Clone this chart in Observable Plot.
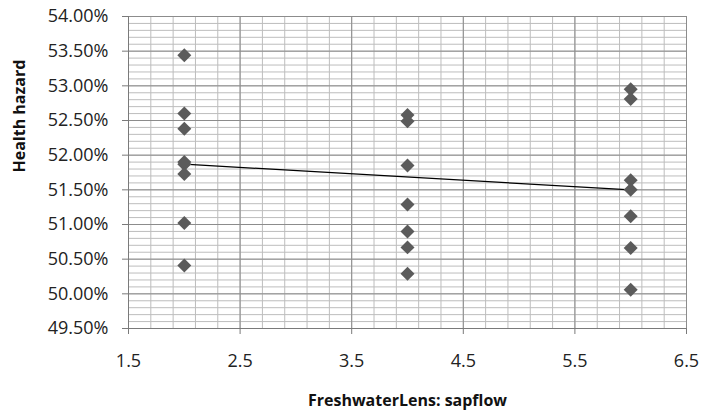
<!DOCTYPE html>
<html>
<head>
<meta charset="utf-8">
<script src="https://cdn.jsdelivr.net/npm/d3@7"></script>
<script src="https://cdn.jsdelivr.net/npm/@observablehq/plot@0.6"></script>
<style>
  html, body { margin: 0; padding: 0; background: #fff; }
  #chart { width: 702px; height: 418px; }
</style>
</head>
<body>
<div id="chart"></div>
<script>
// ---- data ----
const sapflowLevels = [2, 4, 6];
const hazardAt2 = [53.44, 52.60, 52.38, 51.90, 51.87, 51.73, 51.02, 50.41];
const hazardAt4 = [52.58, 52.49, 51.85, 51.29, 50.90, 50.67, 50.29];
const hazardAt6 = [52.95, 52.81, 51.64, 51.50, 51.12, 50.66, 50.06];
const trendX = [2, 6];
const trendY = [51.87, 51.50];
const xTickLabels = [1.5, 2.5, 3.5, 4.5, 5.5, 6.5];
const yTickLabels = [49.5, 50.0, 50.5, 51.0, 51.5, 52.0, 52.5, 53.0, 53.5, 54.0];
const xTitle = "FreshwaterLens: sapflow";
const yTitle = "Health hazard";

// ---- tables built from the arrays ----
const groups = [hazardAt2, hazardAt4, hazardAt6];
const points = groups.flatMap((vals, i) => vals.map(v => ({x: sapflowLevels[i], y: v})));
const trend = trendX.map((x, i) => ({x, y: trendY[i]}));

// minor grid steps (x every 0.2, y every 0.1%)
const xMinor = d3.range(15, 66, 2).map(d => d / 10);
const yMinor = d3.range(495, 541, 1).map(d => d / 10);

const minorColor = "#bdbdbd";
const majorColor = "#8c8c8c";

const chart = Plot.plot({
  width: 702,
  height: 418,
  marginLeft: 128,
  marginRight: 16,
  marginTop: 16,
  marginBottom: 90,
  x: {domain: [1.5, 6.5]},
  y: {domain: [49.5, 54]},
  style: {fontFamily: "'Open Sans', Lato, sans-serif", fontSize: "18px", color: "#222", background: "#fff"},
  marks: [
    Plot.gridX(xMinor, {stroke: minorColor, strokeOpacity: 1}),
    Plot.gridY(yMinor, {stroke: minorColor, strokeOpacity: 1}),
    Plot.gridX(xTickLabels, {stroke: majorColor, strokeOpacity: 1}),
    Plot.gridY(yTickLabels, {stroke: majorColor, strokeOpacity: 1}),
    Plot.ruleX([1.5], {stroke: "#7a7a7a"}),
    Plot.ruleY([49.5], {stroke: "#7a7a7a"}),
    Plot.axisX(xTickLabels, {tickSize: 6, tickPadding: 20, tickFormat: d => d.toFixed(1), stroke: "#7a7a7a", label: null, fontSize: 18}),
    Plot.axisY(yTickLabels, {tickSize: 6, tickPadding: 14, tickFormat: d => d.toFixed(2) + "%", stroke: "#7a7a7a", label: null, fontSize: 18}),
    Plot.line(trend, {x: "x", y: "y", stroke: "#000", strokeWidth: 1.2}),
    Plot.dot(points, {x: "x", y: "y", symbol: "diamond2", r: 6.3, fill: "#5b5b5b", stroke: "none"}),
    Plot.text([yTitle], {frameAnchor: "left", rotate: -90, dx: -109, text: d => d, fontWeight: "bold", fontSize: 16, fill: "#111"}),
    Plot.text([xTitle], {frameAnchor: "bottom", dy: 77, text: d => d, fontWeight: "bold", fontSize: 16, fill: "#111"})
  ]
});
document.getElementById("chart").appendChild(chart);
</script>
</body>
</html>
